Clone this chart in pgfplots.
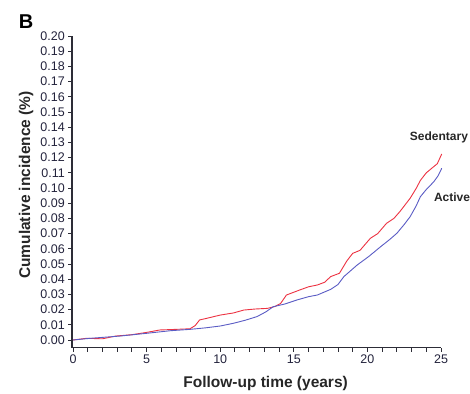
\documentclass[border=0pt]{standalone}
\usepackage{pgfplots}
\pgfplotsset{compat=1.18}
\usepackage{fontspec}
\setmainfont{Liberation Sans}
\definecolor{sedred}{RGB}{236,50,66}
\definecolor{actblue}{RGB}{90,92,196}
\definecolor{axgray}{RGB}{45,45,55}
\definecolor{txt}{RGB}{35,35,60}
\begin{document}
\begin{tikzpicture}
\begin{axis}[
  scale only axis,
  width=368.7pt, height=311.6pt,
  xmin=-0.05, xmax=25, ymin=-0.005, ymax=0.20,
  axis x line*=bottom, axis y line*=left,
  axis line style={axgray, line width=1.6pt},
  clip=false,
  xtick={0,5,10,15,20,25},
  minor x tick num=4,
  ytick={0,0.01,0.02,0.03,0.04,0.05,0.06,0.07,0.08,0.09,0.10,0.11,0.12,0.13,0.14,0.15,0.16,0.17,0.18,0.19,0.20},
  tick align=outside,
  major tick length=4pt, minor tick length=4pt,
  tick style={axgray, line width=0.9pt},
  /pgf/number format/assume math mode=true,
  yticklabel style={/pgf/number format/.cd, fixed, fixed zerofill, precision=2},
  xticklabel style={/pgf/number format/.cd, fixed},
  tick label style={font=\fontsize{12.5}{13}\selectfont, text=txt},
]
\coordinate (sw) at (rel axis cs:0,0);
\addplot[sedred, line width=0.9pt] coordinates {
(0,0) (0.9,0.0011) (2.0,0.0008) (2.9,0.0026) (4.0,0.0035) (5.0,0.005) (5.9,0.0066)
(7.0,0.0070) (7.95,0.0074) (8.3,0.0095) (8.6,0.0132) (9.1,0.0143) (10.0,0.0164)
(10.9,0.0178) (11.6,0.0197) (12.4,0.0204) (13.2,0.0208) (13.7,0.0220) (14.1,0.024)
(14.5,0.0296) (15.4,0.0329) (16.0,0.0350) (16.6,0.0362) (17.1,0.0380) (17.5,0.0417)
(18.1,0.0439) (18.6,0.052) (19.0,0.057) (19.5,0.059) (20.2,0.0669) (20.7,0.070)
(21.3,0.0768) (21.8,0.080) (22.2,0.0844) (22.9,0.0932) (23.3,0.0995) (23.6,0.105)
(24.0,0.1100) (24.5,0.114) (24.75,0.116) (25.05,0.1224)
};
\addplot[actblue, line width=0.9pt] coordinates {
(0,0) (1.15,0.0011) (3.2,0.0026) (5.0,0.0044) (6.6,0.0061) (7.95,0.0070) (9.0,0.0080)
(10.0,0.0092) (10.9,0.011) (11.7,0.0130) (12.5,0.0154) (13.1,0.0185) (13.6,0.0219)
(14.4,0.0237) (15.2,0.0263) (16.0,0.0285) (16.6,0.0296) (17.5,0.0333) (18.0,0.0365)
(18.4,0.0417) (19.3,0.0493) (20.1,0.0550) (20.9,0.0614) (21.5,0.0660) (22.0,0.0702)
(22.5,0.0760) (22.9,0.0811) (23.3,0.0880) (23.6,0.0943) (24.0,0.0990) (24.5,0.104)
(24.8,0.1080) (25.05,0.113)
};
\node[font=\bfseries\fontsize{12}{12}\selectfont, text=black!85] at (axis cs:24.86,0.1336) {Sedentary};
\node[font=\bfseries\fontsize{12}{12}\selectfont, text=black!85] at (axis cs:25.75,0.094) {Active};
\node[font=\bfseries\fontsize{20}{20}\selectfont] at (axis cs:-3.19,0.2094) {B};
\node[font=\bfseries\fontsize{15.5}{16}\selectfont, text=black!85, rotate=90] at (axis cs:-3.19,0.102) {Cumulative incidence (\%)};
\node[font=\bfseries\fontsize{15.5}{16}\selectfont, text=black!85] at (axis cs:13.08,-0.0283) {Follow-up time (years)};
\end{axis}
\pgfresetboundingbox
\path (sw) ++(-72.3pt,-45.4pt) rectangle ++(470pt,393pt);
\end{tikzpicture}
\end{document}
